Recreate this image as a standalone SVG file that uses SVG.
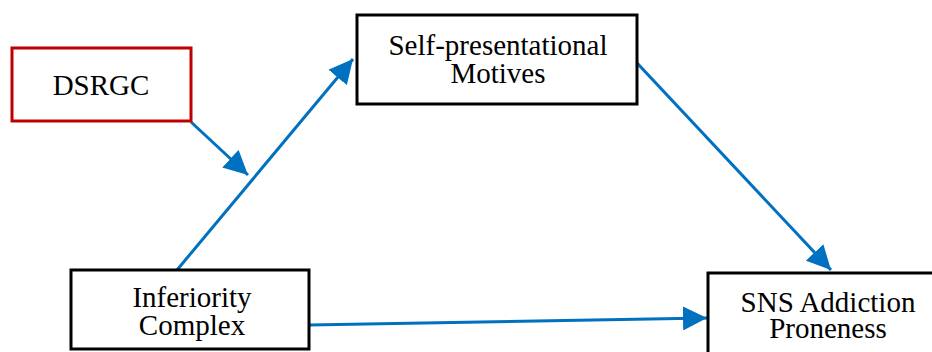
<svg xmlns="http://www.w3.org/2000/svg" width="932" height="352" viewBox="0 0 932 352">
<style>
.box{fill:#fff;stroke:#000;stroke-width:3}
.red{fill:#fff;stroke:#C00000;stroke-width:3}
.t{font-family:"Liberation Serif","Times New Roman",serif;font-size:29px;fill:#000;text-anchor:middle}
.c{stroke:#0070C0;stroke-width:3;fill:none;marker-end:url(#ah)}
</style>
<defs>
<marker id="ah" markerUnits="userSpaceOnUse" markerWidth="24" markerHeight="24" refX="22" refY="11" orient="auto" viewBox="0 0 22 22">
<path d="M0,0 L22,11 L0,22 z" fill="#0070C0"/>
</marker>
</defs>
<rect width="932" height="352" fill="#fff"/>
<g id="connectors">
<path class="c" d="M177,270 L353,59"/>
<path class="c" d="M191,122 L248,175"/>
<path class="c" d="M637,63 L831,270"/>
<path class="c" d="M309,325 L707,318"/>
</g>
<g id="dsrgc">
<rect class="red" x="12" y="48" width="179" height="73"/>
<text class="t" x="101" y="95" font-size="30">DSRGC</text>
</g>
<g id="self-presentational">
<rect class="box" x="357" y="15" width="280" height="89"/>
<text class="t" x="498" y="55">Self-presentational</text>
<text class="t" x="498" y="83">Motives</text>
</g>
<g id="inferiority">
<rect class="box" x="71" y="270" width="238" height="79"/>
<text class="t" x="192" y="307">Inferiority</text>
<text class="t" x="192" y="335">Complex</text>
</g>
<g id="sns">
<rect class="box" x="708" y="273" width="240" height="90"/>
<text class="t" x="828" y="312">SNS Addiction</text>
<text class="t" x="828" y="338">Proneness</text>
</g>
</svg>
